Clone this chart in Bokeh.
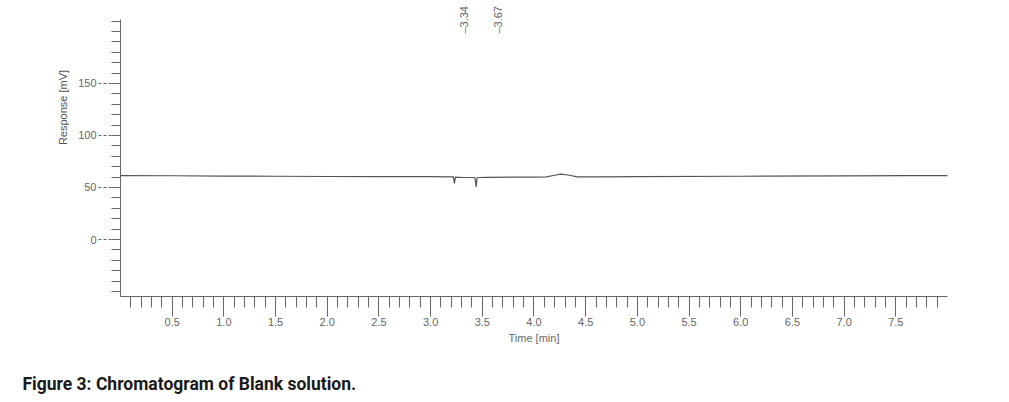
import math
from bokeh.plotting import figure
from bokeh.models import FixedTicker, Label, Range1d
from bokeh.embed import file_html
from bokeh.resources import INLINE

# ---- data ----
time_min = [0.00, 0.50, 1.00, 1.50, 2.00, 2.50, 3.00, 3.20, 3.22, 3.23, 3.24, 3.26,
            3.30, 3.40, 3.43, 3.44, 3.45, 3.47, 3.55, 3.80, 4.00, 4.12, 4.20, 4.26,
            4.33, 4.42, 4.60, 5.00, 6.00, 7.00, 7.60, 8.00]
response_mv = [61.5, 61.3, 61.0, 60.8, 60.6, 60.5, 60.4, 60.3, 60.2, 54.0, 60.0, 59.8,
               59.7, 59.6, 59.4, 50.5, 59.4, 59.6, 59.8, 60.0, 60.0, 60.2, 61.8, 62.8,
               62.0, 60.2, 60.2, 60.4, 60.8, 61.2, 61.5, 61.5]
peak_times = [3.34, 3.67]
peak_labels = ["\u20133.34", "\u20133.67"]
x_ticks = [0.5, 1.0, 1.5, 2.0, 2.5, 3.0, 3.5, 4.0, 4.5, 5.0, 5.5, 6.0, 6.5, 7.0, 7.5]
x_minor = [i / 10 for i in range(1, 80)]
y_ticks = [0, 50, 100, 150]
y_minor = list(range(-50, 211, 10))
time_bounds = (0.0, 8.0)
resp_bounds = (-54.8, 211.5)

FONT = "Liberation Sans"
GRAY = "#666666"

# frame covers the whole canvas; axes are pinned inside it
p = figure(width=1000, height=400, output_backend="svg", toolbar_location=None,
           x_range=Range1d(-1.1608, 8.5127), y_range=Range1d(-154.8, 229.8),
           min_border=0)
p.outline_line_color = None
p.grid.visible = False
p.background_fill_color = "white"
p.border_fill_color = "white"

p.line(time_min, response_mv, line_color="#555555", line_width=1.2)

# x axis
xa = p.xaxis[0]
xa.fixed_location = resp_bounds[0]
xa.bounds = time_bounds
xa.ticker = FixedTicker(ticks=x_ticks, minor_ticks=x_minor)
xa.major_label_overrides = {t: f"{t:.1f}" for t in x_ticks}
xa.axis_line_color = GRAY
xa.major_tick_line_color = GRAY
xa.minor_tick_line_color = GRAY
xa.major_tick_in = 0
xa.major_tick_out = 20
xa.minor_tick_in = 0
xa.minor_tick_out = 11
xa.major_label_standoff = 2
xa.major_label_text_font = FONT
xa.major_label_text_font_size = "11px"
xa.major_label_text_color = GRAY
xa.axis_label = "Time [min]"
xa.axis_label_text_font = FONT
xa.axis_label_text_font_size = "11px"
xa.axis_label_text_font_style = "normal"
xa.axis_label_text_color = GRAY
xa.axis_label_standoff = 2

# y axis
ya = p.yaxis[0]
ya.fixed_location = time_bounds[0]
ya.bounds = resp_bounds
ya.ticker = FixedTicker(ticks=y_ticks, minor_ticks=y_minor)
ya.axis_line_color = GRAY
ya.major_tick_line_color = GRAY
ya.minor_tick_line_color = GRAY
ya.major_tick_line_dash = "3 2"
ya.major_tick_in = 0
ya.major_tick_out = 22
ya.minor_tick_in = 0
ya.minor_tick_out = 9
ya.major_label_standoff = 2
ya.major_label_text_font = FONT
ya.major_label_text_font_size = "11px"
ya.major_label_text_color = GRAY

# y-axis title, placed above the axis centre like the original
p.add_layout(Label(x=62, y=293, x_units="screen", y_units="screen",
                   text="Response [mV]", angle=math.pi / 2,
                   text_align="center", text_baseline="middle",
                   text_font=FONT, text_font_size="11px", text_color="#555555"))

# peak retention-time labels
for t, lab in zip(peak_times, peak_labels):
    p.add_layout(Label(x=t, y=198, x_offset=-2, text=lab, angle=math.pi / 2,
                       text_align="left", text_baseline="middle",
                       text_font=FONT, text_font_size="11px", text_color=GRAY))

# caption
p.add_layout(Label(x=22, y=17, x_units="screen", y_units="screen",
                   text="Figure 3: Chromatogram of Blank solution.",
                   text_align="left", text_baseline="middle",
                   text_font="Roboto", text_font_size="17.5px",
                   text_font_style="bold", text_color="#1a1a1a"))

open("out.html", "w").write(file_html(p, INLINE))
